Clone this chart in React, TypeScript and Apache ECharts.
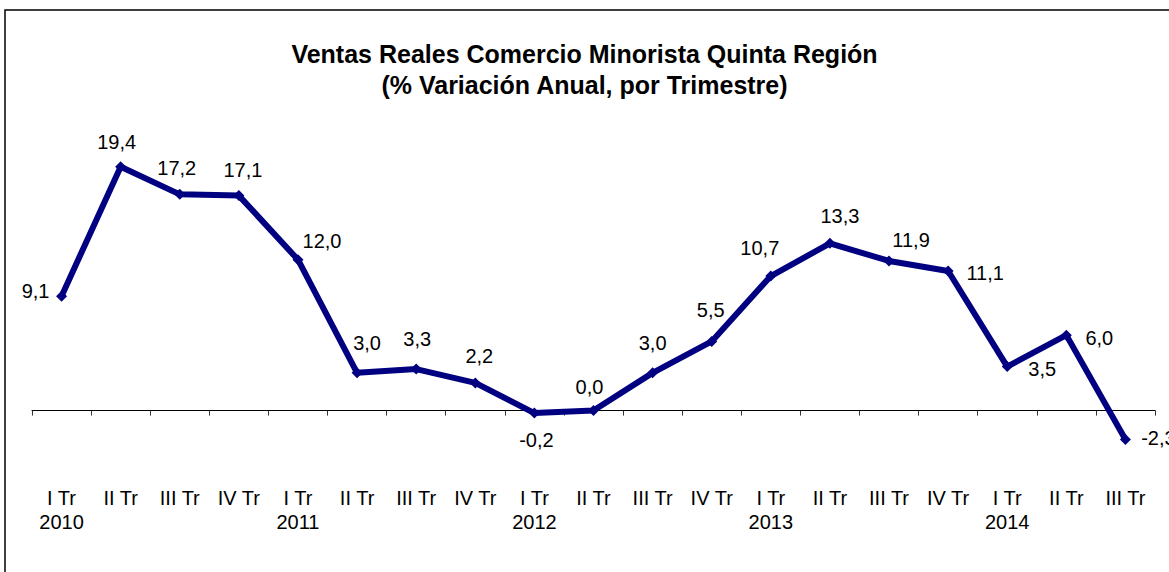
import React, { useEffect, useRef } from "react";
import * as echarts from "echarts";

const titleLines = [
  "Ventas Reales Comercio Minorista Quinta Región",
  "(% Variación Anual, por Trimestre)",
];

const quarters = [
  "I Tr\n2010", "II Tr", "III Tr", "IV Tr",
  "I Tr\n2011", "II Tr", "III Tr", "IV Tr",
  "I Tr\n2012", "II Tr", "III Tr", "IV Tr",
  "I Tr\n2013", "II Tr", "III Tr", "IV Tr",
  "I Tr\n2014", "II Tr", "III Tr",
];

const ventas = [
  9.1, 19.4, 17.2, 17.1,
  12.0, 3.0, 3.3, 2.2,
  -0.2, 0.0, 3.0, 5.5,
  10.7, 13.3, 11.9, 11.1,
  3.5, 6.0, -2.3,
];

const labelOffsets: [number, number][] = [
  [-26, -5], [-4, -25], [-3, -26], [4, -26],
  [24, -19], [10, -30], [1, -30], [4, -27],
  [2, 27], [-4, -24], [0, -30], [-1, -31],
  [-11, -28], [10, -27], [22, -21], [37, 2],
  [35, 2], [33, 3], [33, -1],
];

const FONT = "'Liberation Sans', Arial, sans-serif";

export default function App() {
  const ref = useRef<HTMLDivElement>(null);

  useEffect(() => {
    if (!ref.current) return;
    const chart = echarts.init(ref.current, null, { renderer: "svg" });
    chart.setOption({
      animation: false,
      backgroundColor: "#ffffff",
      title: {
        text: titleLines.join("\n"),
        left: "center",
        top: 38,
        padding: 0,
        textStyle: {
          fontFamily: FONT,
          fontSize: 25,
          fontWeight: "bold",
          color: "#000000",
          lineHeight: 31,
        },
      },
      graphic: [
        {
          type: "rect",
          z: -1,
          silent: true,
          shape: { x: 5, y: 10, width: 1220, height: 620 },
          style: { fill: "none", stroke: "#000000", lineWidth: 1.5 },
        },
      ],
      grid: {
        left: 32,
        right: 14,
        top: 134,
        bottom: 86,
        containLabel: false,
        outerBoundsMode: "none",
      },
      xAxis: {
        type: "category",
        data: quarters,
        boundaryGap: true,
        axisLine: { show: true, onZero: true, lineStyle: { color: "#000000", width: 1 } },
        axisTick: { show: true, length: 5, lineStyle: { color: "#333333", width: 1 } },
        axisLabel: {
          interval: 0,
          margin: 0,
          fontFamily: FONT,
          fontSize: 20,
          lineHeight: 24,
          color: "#000000",
        },
        splitLine: { show: false },
      },
      yAxis: {
        type: "value",
        min: -6,
        max: 22,
        show: false,
        splitLine: { show: false },
      },
      series: [
        {
          type: "line",
          data: ventas.map((v, i) => ({
            value: v,
            label: { offset: labelOffsets[i] },
          })),
          symbol: "diamond",
          symbolSize: 11,
          lineStyle: { color: "#000080", width: 6 },
          itemStyle: { color: "#000080" },
          label: {
            show: true,
            position: "inside",
            fontFamily: FONT,
            fontSize: 20,
            color: "#000000",
            formatter: (p: any) => Number(p.value).toFixed(1).replace(".", ","),
          },
        },
      ],
    });
    return () => chart.dispose();
  }, []);

  return (
    <div
      ref={ref}
      style={{ position: "absolute", left: 0, top: 0, width: 1169, height: 572 }}
    />
  );
}
